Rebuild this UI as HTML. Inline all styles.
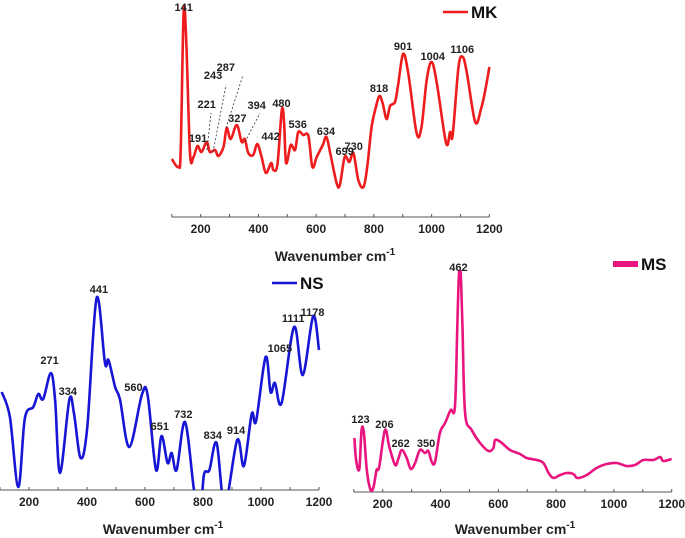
<!DOCTYPE html>
<html><head><meta charset="utf-8"><style>
html,body{margin:0;padding:0;background:#fff;}
svg{display:block;font-family:"Liberation Sans",Arial,sans-serif;font-weight:bold;}
</style></head><body>
<svg id="c" width="685" height="538" viewBox="0 0 685 538">
<defs>
<clipPath id="clipNS"><rect x="0" y="250" width="330" height="240"/></clipPath>
<clipPath id="clipMS"><rect x="345" y="270" width="340" height="222"/></clipPath>
</defs>
</svg>
<script>
// MK series
const mkWave=[100,123,131,141,150,163,175,189,203,221,232,250,261,279,290,304,325,342,353,365,382,396,411,426,444,452,466,481,489,496,512,527,538,555,573,587,602,623,636,650,671,682,699,715,729,746,764,777,792,807,819,830,844,856,873,884,901,919,948,965,983,1000,1018,1050,1064,1073,1093,1108,1122,1151,1171,1186,1200];
const mkInt=[58,50,67,204,177,64,60,71,65,75,65,67,61,70,89,78,92,75,78,64,62,73,60,44,54,47,53,107,94,54,72,67,85,82,81,50,60,72,80,62,34,32,60,55,64,37,30,50,90,110,121,114,98,111,115,132,163,144,84,90,137,155,134,74,85,82,150,160,144,95,108,127,150];
const mkLabels=["141","191","221","243","287","327","394","442","480","536","634","699","730","818","901","1004","1106"];
const mkLabelWave=[141,191,221,243,287,327,394,442,480,536,634,699,730,818,901,1004,1106];
const mkLabelInt=[210,79,113,142,150,99,112,81,114,93,86,66,71,129,171,161,168];
// NS series
const nsWave=[106,134,163,186,215,232,249,275,290,307,339,355,378,401,433,462,474,497,514,546,589,609,638,657,678,692,709,738,769,789,803,822,847,875,918,941,968,983,1016,1033,1048,1071,1114,1144,1180,1200];
const nsInt=[98,73,3,72,83,96,91,117,90,17,90,77,32,63,192,127,130,103,90,43,95,95,20,54,27,37,20,68,0,-30,15,20,47,-15,50,24,76,69,133,98,107,87,163,115,174,140];
const nsLabels=["271","334","441","560","651","732","834","914","1065","1111","1178"];
const nsLabelWave=[271,334,441,560,651,732,834,914,1065,1111,1178];
const nsLabelInt=[130,99,201,103,64,76,55,60,142,172,178];
// MS series
const msWave=[102,108,119,127,135,145,158,168,179,188,208,223,243,254,266,283,297,312,329,346,358,370,381,398,416,435,450,458,464,470,476,485,508,537,566,583,589,608,641,675,698,733,756,774,791,814,837,860,874,906,940,975,1010,1044,1073,1102,1137,1160,1171,1200];
const msInt=[54,32,23,62,59,22,2,5,22,25,62,45,27,33,42,34,23,29,42,39,41,30,30,59,69,82,85,165,218,218,165,79,62,49,41,44,52,50,42,38,34,32,29,19,14,17,19,18,14,17,24,28,29,26,27,32,32,35,31,33];
const msLabels=["123","206","262","350","462"];
const msLabelWave=[123,206,262,350,462];
const msLabelInt=[73,68,49,49,225];
const ticks=[200,400,600,800,1000,1200];

const svg=document.getElementById('c');
const NS='http://www.w3.org/2000/svg';
function mk(tag,attrs,parent){const e=document.createElementNS(NS,tag);for(const k in attrs)e.setAttribute(k,attrs[k]);(parent||svg).appendChild(e);return e;}
function smooth(pts){
  let d='M'+pts[0][0].toFixed(1)+','+pts[0][1].toFixed(1);
  for(let i=0;i<pts.length-1;i++){
    const p0=pts[i-1]||pts[i],p1=pts[i],p2=pts[i+1],p3=pts[i+2]||p2;
    const c1x=p1[0]+(p2[0]-p0[0])/6,c1y=p1[1]+(p2[1]-p0[1])/6;
    const c2x=p2[0]-(p3[0]-p1[0])/6,c2y=p2[1]-(p3[1]-p1[1])/6;
    d+='C'+c1x.toFixed(1)+','+c1y.toFixed(1)+' '+c2x.toFixed(1)+','+c2y.toFixed(1)+' '+p2[0].toFixed(1)+','+p2[1].toFixed(1);
  }
  return d;
}

function panel(cfg){
  const g=mk('g',{});
  
  
  const xs=w=>cfg.x0+(w-100)*cfg.kx;
  const ys=v=>cfg.y0-v;
  const ax=mk('line',{x1:xs(100),x2:xs(1200),y1:cfg.y0,y2:cfg.y0,stroke:'#555','stroke-width':1},g);
  
  
  for(let w=100;w<=1200;w+=100){mk('line',{x1:xs(w),x2:xs(w),y1:cfg.y0-3,y2:cfg.y0,stroke:'#555','stroke-width':1},g);}
  ticks.forEach(t=>{
    const tl=mk('text',{x:xs(t),y:cfg.y0+16,'text-anchor':'middle','font-size':12,fill:'#222'},g);
    tl.textContent=t;
    
    
  });
  const tt=mk('text',{x:cfg.titleX,y:cfg.titleY,'text-anchor':'middle','font-size':14,fill:'#222'},g);
  tt.innerHTML='Wavenumber cm<tspan dy="-6" font-size="10">-1</tspan>';
  
  
  const pts=cfg.wave.map((w,i)=>[xs(w),ys(cfg.int[i])]);
  const p=mk('path',{d:smooth(pts),fill:'none',stroke:cfg.color,'stroke-width':2.6,'stroke-linejoin':'round'},g);
  if(cfg.clip)p.setAttribute('clip-path','url(#'+cfg.clip+')');
  
  
  cfg.labels.forEach((l,i)=>{
    const t=mk('text',{x:xs(cfg.lw[i]),y:ys(cfg.li[i])+4,'text-anchor':'middle','font-size':11,fill:'#222'},g);
    t.textContent=l;
    
    
  });
  const lg=mk('g',{},g);
  
  
  mk('line',{x1:cfg.lx,x2:cfg.lx+25,y1:cfg.ly,y2:cfg.ly,stroke:cfg.color,'stroke-width':cfg.lwid||2.5},lg);
  const lt=mk('text',{x:cfg.lx+28,y:cfg.ly+6,'font-size':17,fill:'#111'},lg);
  lt.textContent=cfg.name.toUpperCase();
}
panel({name:'mk',x0:171.8,kx:0.2887,y0:217,wave:mkWave,int:mkInt,labels:mkLabels,lw:mkLabelWave,li:mkLabelInt,color:'#ee1c1c',lx:443,ly:12,titleX:335,titleY:261});
panel({name:'ns',x0:0,kx:0.29,y0:490,wave:nsWave,int:nsInt,labels:nsLabels,lw:nsLabelWave,li:nsLabelInt,color:'#1616d4',lx:272,ly:283,titleX:163,titleY:534,clip:'clipNS'});
panel({name:'ms',x0:353.8,kx:0.289,y0:492,wave:msWave,int:msInt,labels:msLabels,lw:msLabelWave,li:msLabelInt,color:'#e8147f',lx:613,ly:264,lwid:6,titleX:515,titleY:534,clip:'clipMS'});
[[207,150,211,113],[213,152,226,85],[226,128,243,75],[245,142,260,113]].forEach(a=>{
  const l=mk('line',{x1:a[0],y1:a[1],x2:a[2],y2:a[3],stroke:'#333','stroke-width':0.8,'stroke-dasharray':'2,2'});
  
  
});
</script>
</body></html>
